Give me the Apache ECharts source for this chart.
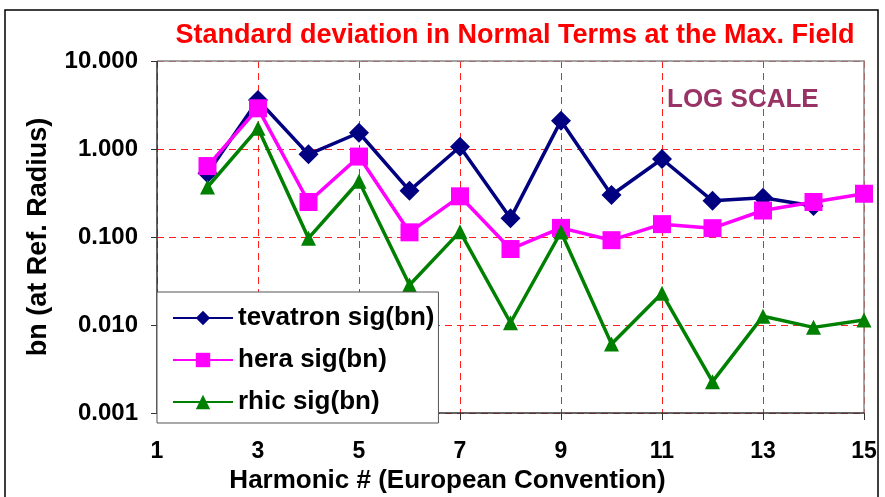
<!DOCTYPE html>
<html>
<head>
<meta charset="utf-8">
<script src="https://cdn.jsdelivr.net/npm/echarts@6/dist/echarts.min.js"></script>
<style>
  html, body { margin: 0; padding: 0; background: #fff; }
  #chart { width: 885px; height: 497px; }
</style>
</head>
<body>
<div id="chart"></div>
<script>
// 谐波序号 (European convention)
const harmonics = [2, 3, 4, 5, 6, 7, 8, 9, 10, 11, 12, 13, 14, 15];
// 各机器的标准差
const tevatron = [0.53, 3.6, 0.87, 1.53, 0.336, 1.06, 0.163, 2.1, 0.30, 0.77, 0.258, 0.28, 0.225, null];
const hera = [0.64, 2.9, 0.25, 0.82, 0.113, 0.29, 0.073, 0.127, 0.092, 0.14, 0.126, 0.20, 0.25, 0.31];
const rhic = [0.37, 1.72, 0.097, 0.43, 0.0285, 0.115, 0.0106, 0.114, 0.0061, 0.0229, 0.00227, 0.0126, 0.0094, 0.0114];
const seriesNames = ['tevatron sig(bn)', 'hera sig(bn)', 'rhic sig(bn)'];

const font = 'Liberation Sans, Arial, sans-serif';
const pairs = arr => harmonics.map((h, i) => [h, arr[i]]).filter(p => p[1] != null);

const chart = echarts.init(document.getElementById('chart'), null, { renderer: 'canvas' });

// 绘图区位置
const plotL = 157, plotT = 61, plotR = 864, plotB = 413;

const option = {
  animation: false,
  backgroundColor: '#fff',
  title: {
    text: 'Standard deviation in Normal Terms at the Max. Field',
    left: 510,
    top: 17,
    textAlign: 'center',
    textStyle: { color: '#ff0000', fontFamily: font, fontWeight: 'bold', fontSize: 27 }
  },
  grid: {
    left: plotL, top: plotT, right: 885 - plotR, bottom: 497 - plotB,
    show: false, containLabel: false, outerBoundsMode: 'none'
  },
  xAxis: {
    type: 'value',
    min: 1,
    max: 15,
    interval: 2,
    name: 'Harmonic # (European Convention)',
    nameLocation: 'middle',
    nameGap: 51,
    nameTextStyle: { color: '#000', fontFamily: font, fontWeight: 'bold', fontSize: 26, padding: [0, 126, 0, 0] },
    axisLine: { show: false },
    axisTick: { show: true, length: 7, lineStyle: { color: '#333' } },
    axisLabel: { color: '#000', fontFamily: font, fontWeight: 'bold', fontSize: 23, margin: 27 },
    splitLine: { show: true, lineStyle: { color: '#ff2020', type: [7, 5], width: 1 } }
  },
  yAxis: {
    type: 'log',
    logBase: 10,
    min: 0.001,
    max: 10,
    name: 'bn (at Ref. Radius)',
    nameLocation: 'middle',
    nameGap: 105,
    nameTextStyle: { color: '#000', fontFamily: font, fontWeight: 'bold', fontSize: 27 },
    axisLine: { show: false },
    axisTick: { show: true, length: 6, lineStyle: { color: '#333' } },
    axisLabel: {
      color: '#000', fontFamily: font, fontWeight: 'bold', fontSize: 24, margin: 19,
      formatter: v => v.toFixed(3)
    },
    splitLine: { show: true, lineStyle: { color: '#ff2020', type: [7, 5], width: 1 } }
  },
  legend: {
    orient: 'vertical',
    left: 157,
    top: 292,
    data: seriesNames,
    backgroundColor: '#fff',
    borderColor: '#555',
    borderWidth: 1,
    padding: [13, 4, 8, 15],
    itemWidth: 60,
    itemHeight: 18,
    itemGap: 16,
    textStyle: { color: '#000', fontFamily: font, fontWeight: 'bold', fontSize: 26 },
    z: 10
  },
  series: [
    {
      name: seriesNames[0],
      type: 'line',
      data: pairs(tevatron),
      symbol: 'diamond',
      symbolSize: 20,
      lineStyle: { color: '#000080', width: 3.5 },
      itemStyle: { color: '#000080' },
      z: 3
    },
    {
      name: seriesNames[1],
      type: 'line',
      data: pairs(hera),
      symbol: 'rect',
      symbolSize: 18,
      lineStyle: { color: '#ff00ff', width: 3.5 },
      itemStyle: { color: '#ff00ff' },
      z: 4
    },
    {
      name: seriesNames[2],
      type: 'line',
      data: pairs(rhic),
      symbol: 'triangle',
      symbolSize: 15,
      lineStyle: { color: '#008000', width: 3.5 },
      itemStyle: { color: '#008000' },
      z: 5
    }
  ],
  graphic: [
    // 外框
    {
      type: 'rect', z: 100, silent: true,
      shape: { x: 5, y: 10, width: 873, height: 500 },
      style: { fill: null, stroke: '#000', lineWidth: 1.5 }
    },
    // 绘图区上边和右边的灰线
    {
      type: 'polyline', z: 1, silent: true,
      shape: { points: [[plotL, plotT], [plotR, plotT], [plotR, plotB]] },
      style: { fill: null, stroke: '#888', lineWidth: 1.5 }
    },
    // 左边和底边的坐标轴线
    {
      type: 'polyline', z: 1, silent: true,
      shape: { points: [[plotL, plotT], [plotL, plotB], [plotR, plotB]] },
      style: { fill: null, stroke: '#333', lineWidth: 1.5 }
    },
    {
      type: 'text', z: 100, silent: true,
      left: 667, top: 87,
      style: { text: 'LOG SCALE', fill: '#993366', font: 'bold 26px ' + font }
    }
  ]
};

chart.setOption(option);
</script>
</body>
</html>
